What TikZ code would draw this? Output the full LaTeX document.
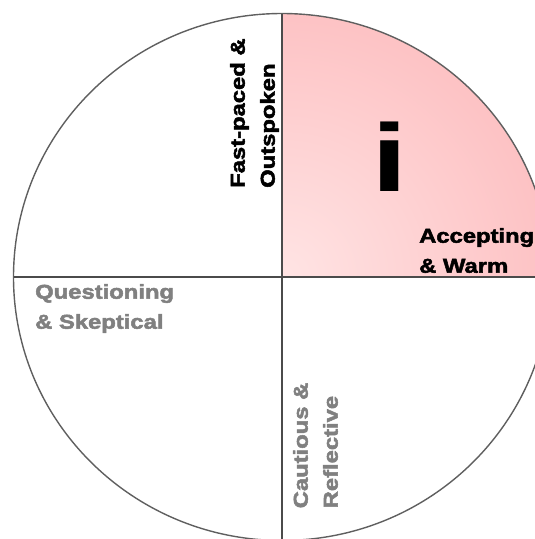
\documentclass[tikz,border=0pt]{standalone}
\usepackage{fontspec}
\setmainfont{Liberation Sans}[FakeStretch=1.19, FakeBold=2.5]
\newfontfamily\bigletter{Liberation Sans}[FakeStretch=1.37]

\definecolor{pinklight}{RGB}{255,228,228}
\definecolor{pinkdark}{RGB}{252,172,175}
\definecolor{axisgray}{RGB}{75,75,75}
\definecolor{rimgray}{RGB}{95,95,95}
\definecolor{textgray}{RGB}{128,128,128}

\begin{document}
\begin{tikzpicture}[x=1pt,y=-1pt,
    quadlabel/.style={font=\bfseries\fontsize{20}{30}\selectfont, align=left,
      inner sep=0pt, anchor=north west}]

    \useasboundingbox (0,0) rectangle (535,539);

    \coordinate (centre) at (282,277);

    % Shaded upper right quadrant
    \begin{scope}
      \clip (centre) -- (550.5,277)
        arc[start angle=0, end angle=-90, x radius=268.5, y radius=263.5] -- cycle;
      \shade[inner color=pinklight, outer color=pinkdark] (centre) circle[radius=440];
    \end{scope}

    % Outer circle
    \draw[rimgray, line width=1.4pt] (centre) ellipse[x radius=268.5, y radius=263.5];

    % Dividing axes
    \draw[axisgray, line width=2.2pt] (13.5,277) -- (535,277);
    \draw[axisgray, line width=2.2pt] (282,13.5) -- (282,539);

    % Quadrant labels
    \node[quadlabel, rotate=90] (fastpaced) at (230,188) {Fast-paced \&\\Outspoken};
    \node[quadlabel] (accepting) at (419,228) {Accepting\\\& Warm};
    \node[quadlabel, textgray] (questioning) at (35,284) {Questioning\\\& Skeptical};
    \node[quadlabel, rotate=90, textgray] (cautious) at (293,508.5) {Cautious \&\\Reflective};

    % Style letter
    \node[inner sep=0pt, anchor=base, font=\bigletter\bfseries\fontsize{96}{96}\selectfont]
      (iletter) at (389.5,191) {i};

  \end{tikzpicture}
\end{document}
